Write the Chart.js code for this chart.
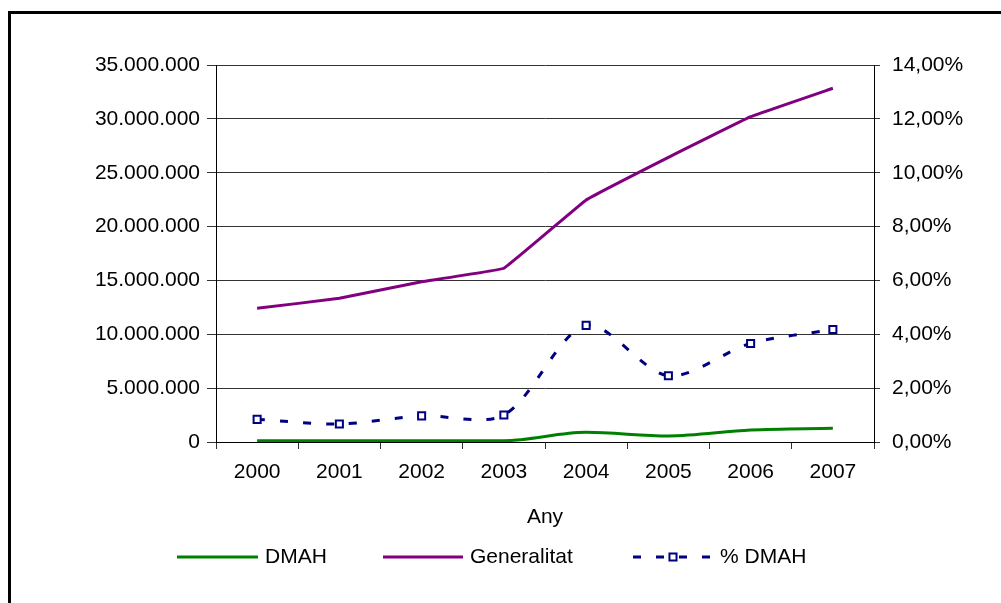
<!DOCTYPE html>
<html>
<head>
<meta charset="utf-8">
<script src="https://cdn.jsdelivr.net/npm/chart.js@4.4.1/dist/chart.umd.min.js"></script>
<style>
  html, body { margin: 0; padding: 0; background: #fff; }
  canvas { display: block; }
</style>
</head>
<body>
<canvas id="chart" width="1001" height="603"></canvas>
<script>
// Years on the category axis
const years = ['2000', '2001', '2002', '2003', '2004', '2005', '2006', '2007'];

// Amounts in euros (left axis)
const dmah = [120000, 120000, 120000, 120000, 900000, 560000, 1110000, 1270000];
const generalitat = [12410000, 13340000, 14880000, 16130000, 22470000, 26430000, 30200000, 32840000];

// DMAH share in percent (right axis)
const pctDmah = [0.84, 0.67, 0.97, 1.00, 4.33, 2.46, 3.66, 4.18];

// Axis ranges
const leftMax = 35000000, leftStep = 5000000;
const rightMax = 14, rightStep = 2;

const FONT = '"Liberation Sans", Arial, sans-serif';
const FONT_SIZE = 21;

function thousands(v) {
  return String(Math.round(v)).replace(/\B(?=(\d{3})+(?!\d))/g, '.');
}
function percent(v) {
  return v.toFixed(2).replace('.', ',') + '%';
}

// Outer frame around the chart
const framePlugin = {
  id: 'frame',
  beforeDraw(chart) {
    const ctx = chart.ctx;
    ctx.save();
    ctx.fillStyle = '#fff';
    ctx.fillRect(0, 0, chart.width, chart.height);
    ctx.fillStyle = '#000';
    ctx.fillRect(8, 11, chart.width - 8, 3);
    ctx.fillRect(8, 11, 3, chart.height - 11);
    ctx.restore();
  }
};

// Legend row below the axis title
const legendPlugin = {
  id: 'bottomLegend',
  afterDraw(chart) {
    const ctx = chart.ctx;
    const y = 557;
    const slots = [
      { x0: 177, x1: 258, tx: 265 },
      { x0: 383, x1: 463, tx: 470 },
      { x0: 633, x1: 713, tx: 720 }
    ];
    ctx.save();
    chart.data.datasets.forEach((ds, i) => {
      const s = slots[i];
      ctx.strokeStyle = ds.borderColor;
      ctx.lineWidth = ds.borderWidth;
      ctx.setLineDash(ds.borderDash || []);
      ctx.lineCap = 'butt';
      ctx.beginPath();
      ctx.moveTo(s.x0, y);
      ctx.lineTo(s.x1, y);
      ctx.stroke();
      ctx.setLineDash([]);
      if (ds.pointRadius > 0) {
        ctx.fillStyle = ds.pointBackgroundColor;
        ctx.strokeStyle = ds.pointBorderColor;
        ctx.lineWidth = ds.pointBorderWidth;
        ctx.beginPath();
        const h = Math.SQRT1_2 * ds.pointRadius;
        ctx.rect((s.x0 + s.x1) / 2 - h, y - h, 2 * h, 2 * h);
        ctx.fill();
        ctx.stroke();
      }
      ctx.fillStyle = '#000';
      ctx.font = FONT_SIZE + 'px ' + FONT;
      ctx.textBaseline = 'middle';
      ctx.textAlign = 'left';
      ctx.fillText(ds.label, s.tx, y);
    });
    ctx.restore();
  }
};

new Chart(document.getElementById('chart'), {
  type: 'line',
  data: {
    labels: years,
    datasets: [
      {
        label: 'DMAH',
        data: dmah,
        yAxisID: 'y',
        borderColor: '#008000',
        backgroundColor: '#008000',
        borderWidth: 3,
        pointRadius: 0,
        cubicInterpolationMode: 'monotone',
        fill: false
      },
      {
        label: 'Generalitat',
        data: generalitat,
        yAxisID: 'y',
        borderColor: '#800080',
        backgroundColor: '#800080',
        borderWidth: 3,
        pointRadius: 0,
        tension: 0.05,
        fill: false
      },
      {
        label: '% DMAH',
        data: pctDmah,
        yAxisID: 'y1',
        borderColor: '#000080',
        backgroundColor: '#000080',
        borderWidth: 3,
        borderDash: [8, 15],
        pointStyle: 'rect',
        pointRadius: 5,
        pointBorderWidth: 2,
        pointBackgroundColor: '#fff',
        pointBorderColor: '#000080',
        tension: 0.3,
        fill: false
      }
    ]
  },
  options: {
    responsive: false,
    animation: false,
    devicePixelRatio: 1,
    layout: { padding: { top: 65, left: 0, right: 0, bottom: 0 } },
    plugins: {
      legend: { display: false },
      tooltip: { enabled: false },
      title: { display: false }
    },
    scales: {
      x: {
        type: 'category',
        offset: true,
        grid: {
          offset: true,
          drawOnChartArea: false,
          drawTicks: true,
          tickLength: 7,
          color: '#333'
        },
        border: { display: true, color: '#000', width: 1 },
        ticks: {
          color: '#000',
          font: { family: FONT, size: FONT_SIZE },
          padding: 11,
          maxRotation: 0
        },
        title: {
          display: true,
          text: 'Any',
          color: '#000',
          font: { family: FONT, size: FONT_SIZE },
          padding: { top: 0, bottom: 73 }
        },
        afterFit(scale) { scale.height = 161; }
      },
      y: {
        position: 'left',
        min: 0,
        max: leftMax,
        grid: {
          color: '#333',
          lineWidth: 1,
          drawTicks: true,
          tickLength: 9
        },
        border: { display: true, color: '#000', width: 1 },
        ticks: {
          stepSize: leftStep,
          color: '#000',
          font: { family: FONT, size: FONT_SIZE },
          padding: 7,
          callback: (v) => thousands(v)
        },
        afterFit(scale) { scale.width = 216; }
      },
      y1: {
        position: 'right',
        min: 0,
        max: rightMax,
        grid: {
          drawOnChartArea: false,
          drawTicks: true,
          tickLength: 6,
          color: '#333'
        },
        border: { display: true, color: '#000', width: 1 },
        ticks: {
          stepSize: rightStep,
          color: '#000',
          font: { family: FONT, size: FONT_SIZE },
          padding: 12,
          callback: (v) => percent(v)
        },
        afterFit(scale) { scale.width = 127; }
      }
    }
  },
  plugins: [framePlugin, legendPlugin]
});
</script>
</body>
</html>
